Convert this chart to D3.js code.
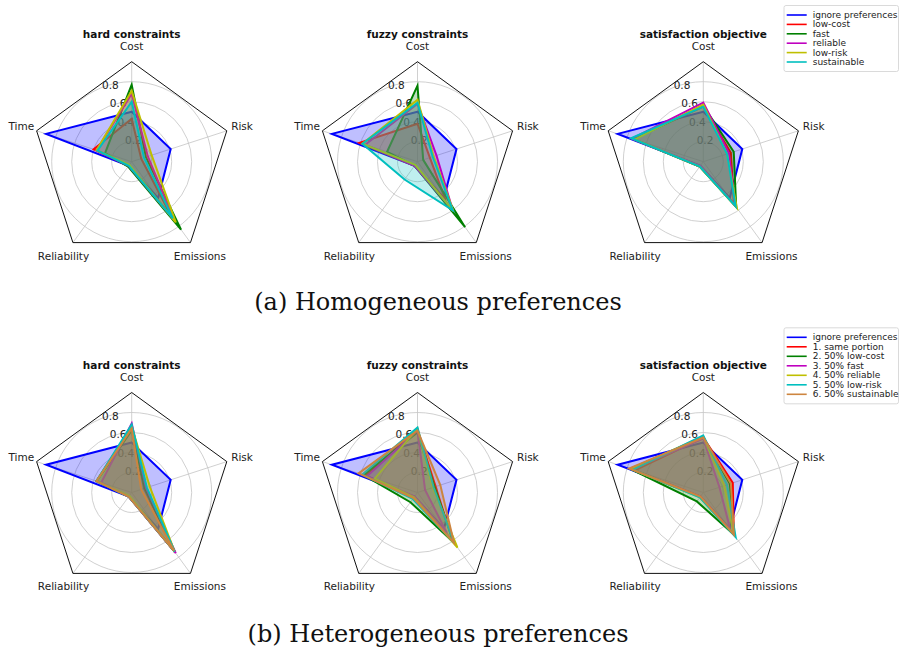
<!DOCTYPE html>
<html><head><meta charset="utf-8">
<script src="https://cdn.jsdelivr.net/npm/d3@7/dist/d3.min.js"></script>
<style>body{margin:0;background:#fff}svg{display:block}</style>
</head><body>
<svg id="c" width="899" height="653"></svg>
<script>
const axesNames = ["Cost","Time","Reliability","Emissions","Risk"];
const tickValues = [0.2,0.4,0.6,0.8];
const methods = ["hard constraints","fuzzy constraints","satisfaction objective"];
const homLabels = ["ignore preferences","low-cost","fast","reliable","low-risk","sustainable"];
const hetLabels = ["ignore preferences","1. same portion","2. 50% low-cost","3. 50% fast","4. 50% reliable","5. 50% low-risk","6. 50% sustainable"];
const homColors = ["#0000ff","#ff0000","#008000","#bf00bf","#bfbf00","#00bfbf"];
const hetColors = ["#0000ff","#ff0000","#008000","#bf00bf","#bfbf00","#00bfbf","#cd853f"];
const captions = ["(a) Homogeneous preferences","(b) Heterogeneous preferences"];

// values per axis: Cost, Time, Reliability, Emissions, Risk
const ignorePrefs = [0.50, 0.90, 0.05, 0.45, 0.41];

const homHard = [
  ignorePrefs,
  [0.43, 0.40, 0.05, 0.68, 0.10],
  [0.77, 0.28, 0.06, 0.84, 0.15],
  [0.68, 0.37, 0.05, 0.72, 0.17],
  [0.71, 0.37, 0.04, 0.75, 0.21],
  [0.60, 0.36, 0.05, 0.70, 0.13]
];
const homFuzzy = [
  ignorePrefs,
  [0.38, 0.61, 0.05, 0.48, 0.13],
  [0.76, 0.32, 0.05, 0.81, 0.06],
  [0.58, 0.55, 0.05, 0.60, 0.20],
  [0.62, 0.58, 0.04, 0.61, 0.17],
  [0.59, 0.58, 0.22, 0.60, 0.16]
];
const homSat = [
  ignorePrefs,
  [0.55, 0.74, 0.06, 0.52, 0.29],
  [0.56, 0.73, 0.06, 0.56, 0.32],
  [0.59, 0.75, 0.05, 0.54, 0.27],
  [0.57, 0.72, 0.06, 0.57, 0.25],
  [0.55, 0.76, 0.06, 0.55, 0.25]
];
const hetHard = [
  ignorePrefs,
  [0.66, 0.37, 0.05, 0.73, 0.13],
  [0.62, 0.37, 0.05, 0.73, 0.14],
  [0.69, 0.32, 0.05, 0.75, 0.15],
  [0.66, 0.37, 0.04, 0.73, 0.19],
  [0.68, 0.37, 0.05, 0.73, 0.16],
  [0.64, 0.37, 0.05, 0.72, 0.10]
];
const hetFuzzy = [
  ignorePrefs,
  [0.63, 0.55, 0.06, 0.60, 0.19],
  [0.60, 0.57, 0.12, 0.62, 0.18],
  [0.62, 0.53, 0.05, 0.50, 0.08],
  [0.64, 0.45, 0.06, 0.68, 0.16],
  [0.65, 0.58, 0.08, 0.62, 0.17],
  [0.62, 0.62, 0.07, 0.62, 0.24]
];
const hetSat = [
  ignorePrefs,
  [0.55, 0.72, 0.05, 0.52, 0.31],
  [0.55, 0.77, 0.11, 0.52, 0.28],
  [0.54, 0.75, 0.05, 0.46, 0.17],
  [0.56, 0.76, 0.06, 0.52, 0.22],
  [0.57, 0.74, 0.06, 0.55, 0.25],
  [0.55, 0.78, 0.05, 0.52, 0.29]
];

const rows = [
  {data:[homHard,homFuzzy,homSat], colors:homColors, labels:homLabels},
  {data:[hetHard,hetFuzzy,hetSat], colors:hetColors, labels:hetLabels}
];

const svg = d3.select("#c");
const R = 100;
const rScale = d3.scaleLinear().domain([0,1]).range([0,R]);
const angle = d3.scaleLinear().domain([0,5]).range([0,-2*Math.PI]); // ccw from top
const colX = d3.scaleLinear().domain([0,2]).range([131.7,703.3]);
const rowY = d3.scaleLinear().domain([0,1]).range([161.7,492.5]);
const font = "'DejaVu Sans', sans-serif";

function xy(i, r){ const a = angle(i); return [Math.sin(a)*r, -Math.cos(a)*r]; }

const radial = d3.lineRadial().angle((d,i)=>angle(i)).radius(d=>rScale(d)).curve(d3.curveLinearClosed);

rows.forEach((row, ri)=>{
  row.data.forEach((series, ci)=>{
    const g = svg.append("g").attr("transform",`translate(${colX(ci)},${rowY(ri)})`);
    g.selectAll("circle.grid").data(tickValues).join("circle")
      .attr("r", d=>rScale(d)).attr("fill","none").attr("stroke","#c4c4c4").attr("stroke-width",0.8);
    g.selectAll("line.spoke").data(axesNames).join("line")
      .attr("x1",0).attr("y1",0)
      .attr("x2",(d,i)=>xy(i,R)[0]).attr("y2",(d,i)=>xy(i,R)[1])
      .attr("stroke","#c4c4c4").attr("stroke-width",0.8);
    g.append("path").attr("d", radial([1,1,1,1,1])).attr("fill","none").attr("stroke","#111").attr("stroke-width",1);
    const la = 22.5*Math.PI/180;
    g.selectAll("text.tick").data(tickValues).join("text")
      .attr("x", d=>-Math.sin(la)*rScale(d)+1)
      .attr("y", d=>-Math.cos(la)*rScale(d)-3)
      .attr("dominant-baseline","central").attr("text-anchor","start")
      .attr("font-family",font).attr("font-size",10.5).attr("fill","#222")
      .text(d=>d3.format(".1f")(d));
    series.forEach((vals, si)=>{
      const col = row.colors[si];
      g.append("path").attr("d", radial(vals)).attr("fill","none").attr("stroke",col)
        .attr("stroke-width",2).attr("stroke-linejoin","miter");
      g.append("path").attr("d", radial(vals)).attr("fill",col).attr("fill-opacity",0.25).attr("stroke","none");
    });
    g.selectAll("text.ax").data(axesNames).join("text")
      .attr("x",(d,i)=>xy(i,R+16)[0]).attr("y",(d,i)=>xy(i,R+16)[1])
      .attr("text-anchor","middle").attr("dominant-baseline","central")
      .attr("font-family",font).attr("font-size",10.5).attr("fill","#222")
      .text(d=>d);
    g.append("text").attr("x",0).attr("y",-R-27.7)
      .attr("text-anchor","middle").attr("dominant-baseline","central")
      .attr("font-family",font).attr("font-size",10.5).attr("font-weight","bold").attr("fill","#111")
      .text(methods[ci]);
  });

  const ly0 = ri===0 ? 15 : 337.3;
  const step = ri===0 ? 9.4 : 9.5;
  const n = row.labels.length;
  const lg = svg.append("g");
  lg.append("rect").attr("x",784).attr("y",ly0-9.5).attr("width",114.5).attr("height",(n-1)*step+19)
    .attr("rx",2).attr("fill","#fff").attr("stroke","#d0d0d0").attr("stroke-width",0.8);
  row.labels.forEach((lab, i)=>{
    const y = ly0 + i*step;
    lg.append("line").attr("x1",786.7).attr("x2",806.7).attr("y1",y).attr("y2",y)
      .attr("stroke",row.colors[i]).attr("stroke-width",1.6);
    lg.append("text").attr("x",812.7).attr("y",y).attr("dominant-baseline","central")
      .attr("font-family",font).attr("font-size",9).attr("fill","#222").text(lab);
  });

  svg.append("text").attr("x",438).attr("y", ri===0 ? 310 : 642)
    .attr("text-anchor","middle")
    .attr("font-family","'DejaVu Serif', serif").attr("font-size",24)
    .attr("fill","#111").text(captions[ri]);
});
</script>
</body></html>
